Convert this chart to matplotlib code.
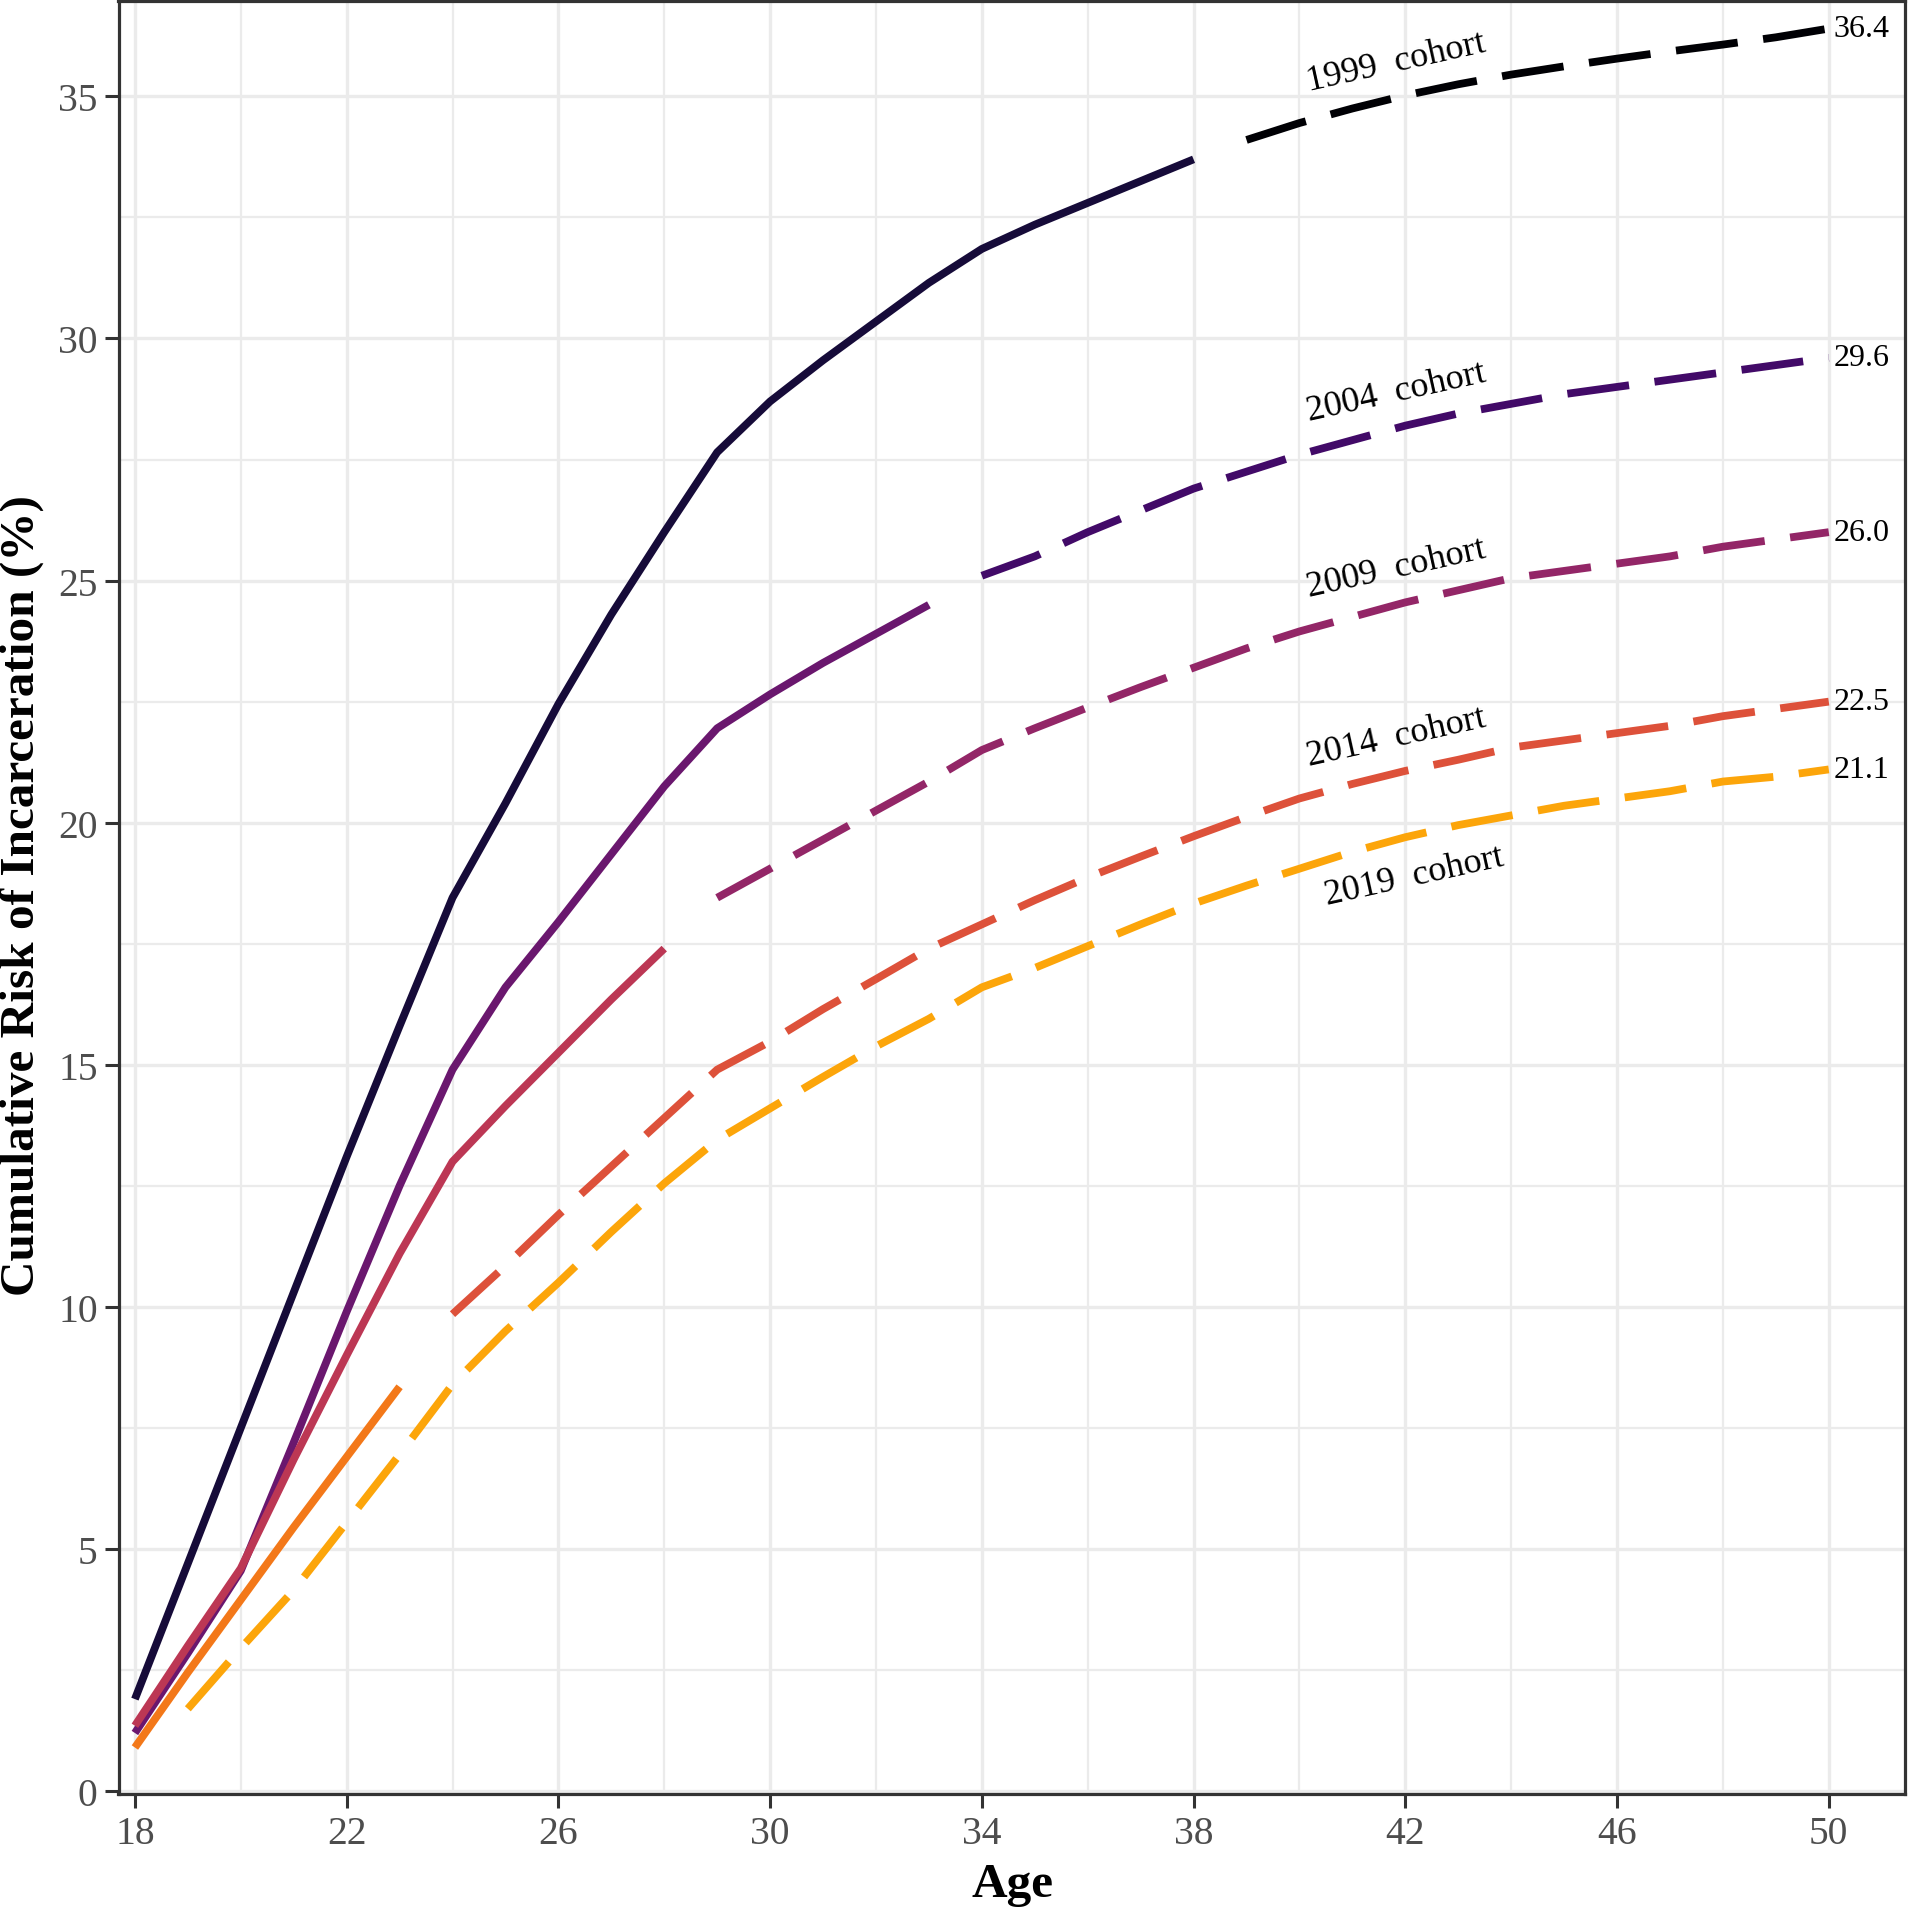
import matplotlib
matplotlib.use('Agg')
import matplotlib.pyplot as plt

plt.rcParams['font.family'] = ['Liberation Serif', 'DejaVu Serif']

# cohorts: observed part (solid) and projected part (dashed)
cohorts = ['1999', '2004', '2009', '2014', '2019']

age_obs = {
    '1999': list(range(18, 39)),
    '2004': list(range(18, 34)),
    '2009': list(range(18, 29)),
    '2014': list(range(18, 24)),
    '2019': [],
}
risk_obs = {
    '1999': [1.9, 4.7, 7.5, 10.3, 13.1, 15.8, 18.45, 20.4, 22.45, 24.3, 26.0,
             27.65, 28.7, 29.55, 30.35, 31.15, 31.85, 32.35, 32.8, 33.25, 33.7],
    '2004': [1.2, 2.85, 4.55, 7.2, 9.9, 12.5, 14.9, 16.6, 17.95, 19.35, 20.75,
             21.95, 22.65, 23.3, 23.9, 24.5],
    '2009': [1.35, 3.0, 4.6, 6.85, 9.0, 11.1, 13.0, 14.15, 15.25, 16.35, 17.4],
    '2014': [0.9, 2.45, 3.95, 5.45, 6.9, 8.35],
    '2019': [],
}
age_proj = {
    '1999': list(range(39, 51)),
    '2004': list(range(34, 51)),
    '2009': list(range(29, 51)),
    '2014': list(range(24, 51)),
    '2019': list(range(19, 51)),
}
risk_proj = {
    '1999': [34.1, 34.45, 34.75, 35.02, 35.25, 35.45, 35.62, 35.78, 35.93, 36.07,
             36.22, 36.4],
    '2004': [25.1, 25.5, 26.0, 26.45, 26.9, 27.25, 27.6, 27.9, 28.2, 28.45,
             28.65, 28.85, 29.0, 29.15, 29.3, 29.45, 29.6],
    '2009': [18.45, 19.05, 19.65, 20.25, 20.85, 21.5, 21.95, 22.38, 22.8, 23.2,
             23.6, 23.95, 24.25, 24.55, 24.8, 25.05, 25.2, 25.35, 25.5, 25.7,
             25.85, 26.0],
    '2014': [9.85, 10.85, 11.9, 12.9, 13.9, 14.9, 15.48, 16.15, 16.77, 17.4,
             17.9, 18.4, 18.87, 19.3, 19.72, 20.12, 20.5, 20.8, 21.07, 21.3,
             21.55, 21.7, 21.85, 22.0, 22.2, 22.35, 22.5],
    '2019': [1.7, 2.95, 4.15, 5.55, 6.95, 8.4, 9.5, 10.5, 11.55, 12.55, 13.45,
             14.1, 14.75, 15.38, 15.95, 16.6, 17.0, 17.45, 17.9, 18.33, 18.7,
             19.05, 19.4, 19.7, 19.95, 20.15, 20.35, 20.5, 20.65, 20.85, 20.95,
             21.1],
}

# inferno colours
col_obs = {'1999': '#160b39', '2004': '#6a176e', '2009': '#bc3754',
           '2014': '#f37819', '2019': '#f6d746'}
col_proj = {'1999': '#000004', '2004': '#420a68', '2009': '#932667',
            '2014': '#dd513a', '2019': '#fca50a'}

x_major = list(range(18, 51, 4))
x_minor = list(range(20, 51, 4))
y_major = list(range(0, 36, 5))
y_minor = [2.5, 7.5, 12.5, 17.5, 22.5, 27.5, 32.5]

# cohort label positions (age, risk)
label_pos = {'1999': (41.83, 35.71), '2004': (41.83, 28.89), '2009': (41.83, 25.26),
             '2014': (41.83, 21.78), '2019': (42.16, 18.89)}

fig = plt.figure(figsize=(19.09, 19.08), dpi=100)
ax = fig.add_axes([118.5 / 1909, 1 - 1795 / 1908, (1905 - 118.5) / 1909, (1795 - 2) / 1908])

lw = 5.6
for c in cohorts:
    if len(age_obs[c]) > 1:
        ax.plot(age_obs[c], risk_obs[c], color=col_obs[c], lw=lw,
                solid_capstyle='butt', solid_joinstyle='round', zorder=3)
    ax.plot(age_proj[c], risk_proj[c], color=col_proj[c], lw=lw,
            dashes=(8.0, 3.3), dash_capstyle='butt', dash_joinstyle='round', zorder=3)
    # final value
    ax.annotate('%.1f' % risk_proj[c][-1], xy=(age_proj[c][-1], risk_proj[c][-1]),
                xytext=(3.5, 0), textcoords='offset points', ha='left', va='center',
                fontsize=23, color='black', zorder=4)
    lx, ly = label_pos[c]
    ax.text(lx, ly, c + '  cohort', rotation=12.5, ha='center', va='center',
            fontsize=26, color='black', zorder=4)

ax.set_xlim(17.69, 51.44)
ax.set_ylim(-0.06, 36.97)
ax.set_xticks(x_major)
ax.set_xticks(x_minor, minor=True)
ax.set_yticks(y_major)
ax.set_yticks(y_minor, minor=True)
ax.grid(which='major', color='#ebebeb', lw=2.4, zorder=0)
ax.grid(which='minor', color='#ebebeb', lw=1.6, zorder=0)
ax.set_axisbelow(True)
ax.tick_params(which='major', direction='out', length=10, width=2.2, color='#333333',
               labelcolor='#4d4d4d', labelsize=28.5, pad=5)
ax.tick_params(which='minor', length=0)
for s in ax.spines.values():
    s.set_color('#333333')
    s.set_linewidth(2.3)
    s.set_zorder(5)

fig.text(1012 / 1909, 1 - 1897 / 1908, 'Age', ha='center', va='baseline',
         fontsize=35.5, fontweight='bold')
fig.text(22 / 1909, 1 - 896 / 1908, 'Cumulative Risk of Incarceration (%)', rotation=90,
         ha='center', va='center', fontsize=35.5, fontweight='bold')

fig.savefig('out.png', dpi=100)
